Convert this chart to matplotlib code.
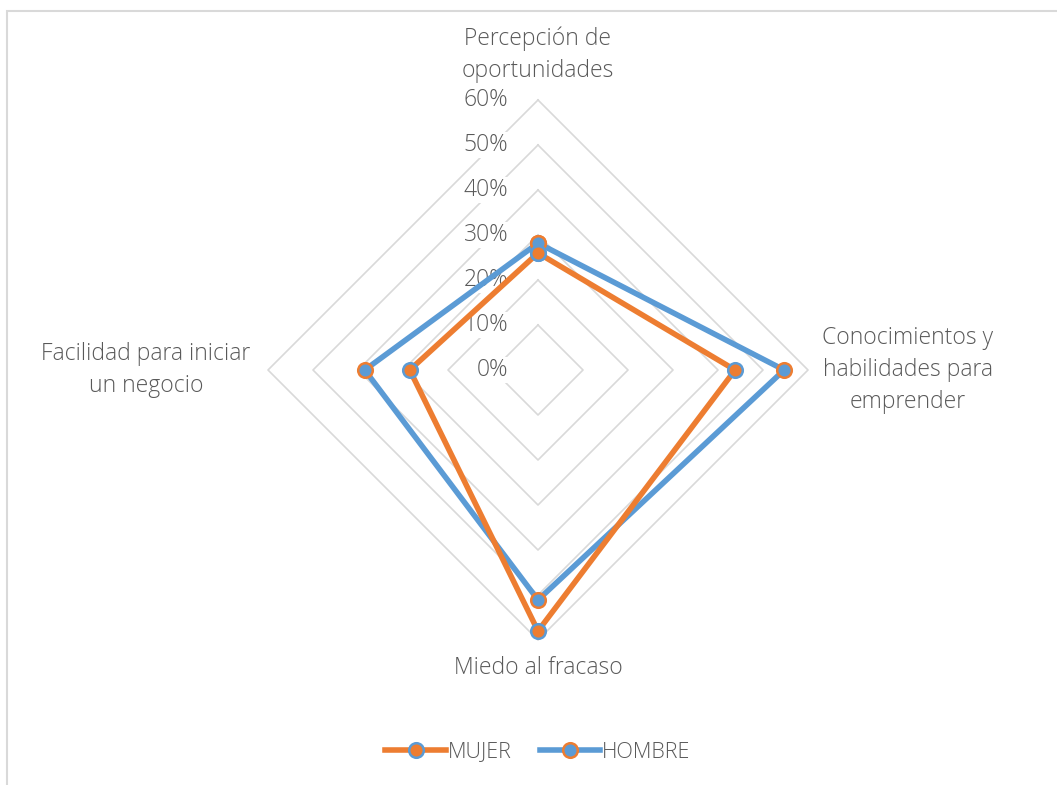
import matplotlib.pyplot as plt
from matplotlib.patches import Rectangle
import numpy as np

# categories (clockwise from top) and values
categories = ["Percepción de\noportunidades", "Conocimientos y\nhabilidades para\nemprender",
              "Miedo al fracaso", "Facilidad para iniciar\nun negocio"]
mujer = [0.26, 0.438, 0.58, 0.285]
hombre = [0.282, 0.547, 0.511, 0.385]
ticks = [0.0, 0.1, 0.2, 0.3, 0.4, 0.5, 0.6]
tick_labels = ["0%", "10%", "20%", "30%", "40%", "50%", "60%"]

ORANGE = "#ED7D31"
BLUE = "#5B9BD5"
GRID = "#D9D9D9"
TXT = "#595959"
plt.rcParams['font.family'] = ['Open Sans', 'DejaVu Sans']

angles = np.deg2rad([90, 0, -90, 180])

def to_xy(vals):
    v = np.array(vals + vals[:1])
    a = np.concatenate([angles, angles[:1]])
    return v * np.cos(a), v * np.sin(a)

W, H = 1057, 785
cx, cy, scale = 538, 370, 450.0
fig = plt.figure(figsize=(W / 100, H / 100), dpi=100)
ax = fig.add_axes([0, 0, 1, 1])
ax.set_xlim(-cx / scale, (W - cx) / scale)
ax.set_ylim(-(H - cy) / scale, cy / scale)
ax.axis('off')

# chart border
fig.patches.append(Rectangle((7 / W, -0.1), 1.2, 1 - 11 / H + 0.1, transform=fig.transFigure,
                             fill=False, edgecolor="#D9D9D9", lw=1.5))

# diamond gridlines
for t in ticks[1:]:
    gx, gy = to_xy([t] * 4)
    ax.plot(gx, gy, color=GRID, lw=1.2, zorder=1)

# tick labels with white background over gridlines
for t, lab in zip(ticks, tick_labels):
    ax.text(-0.066, t, lab, ha='right', va='center', fontsize=16.5, color=TXT, zorder=2,
            fontweight='light', bbox=dict(facecolor='white', edgecolor='none', pad=0.5))

# category labels
kw = dict(ha='center', va='center', fontsize=16.5, color=TXT, linespacing=1.45, fontweight='light')
ax.text(0, 0.70, categories[0], **kw)
ax.text(0.822, 0.0, categories[1], **kw)
ax.text(0, -0.662, categories[2], **kw)
ax.text(-0.871, 0.0, categories[3], **kw)

mx, my = to_xy(mujer)
hx, hy = to_xy(hombre)
ax.plot(hx, hy, color=BLUE, lw=4, marker='o', ms=10.5, mfc=BLUE, mec=ORANGE, mew=1.8,
        zorder=4, label="HOMBRE", solid_joinstyle='round')
ax.plot(mx, my, color=ORANGE, lw=4, marker='o', ms=10.5, mfc=ORANGE, mec=BLUE, mew=1.8,
        zorder=5, label="MUJER", solid_joinstyle='round')

handles, labels = ax.get_legend_handles_labels()
fig.legend(handles[::-1], labels[::-1], loc='center', bbox_to_anchor=(538 / W, 1 - 752 / H),
           ncol=2, frameon=False, fontsize=15.5, handlelength=2.8, handletextpad=0.1,
           columnspacing=1.3, labelcolor=TXT, prop=dict(weight='light', size=15.5))

fig.savefig("out.png", dpi=100)
